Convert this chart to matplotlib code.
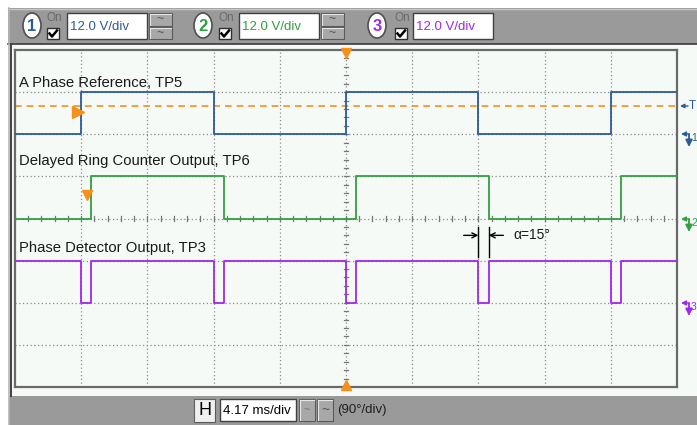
import matplotlib
matplotlib.use("Agg")
import matplotlib.pyplot as plt
from matplotlib.patches import Rectangle, Ellipse

plt.rcParams['font.family'] = ['Liberation Sans', 'DejaVu Sans']

# ---------------- data (time in degrees, level in divisions) ----------------
ref_t = [-90, 0, 180, 360, 540, 720, 810]
ref_v = [6, 7, 6, 7, 6, 7, 7]
ring_t = [-90, 14, 194, 374, 554, 734, 810]
ring_v = [4, 5, 4, 5, 4, 5, 5]
pd_t = [-90, 0, 14, 180, 194, 360, 374, 540, 554, 720, 734, 810]
pd_v = [3, 2, 3, 2, 3, 2, 3, 2, 3, 2, 3, 3]
trigger_level = 6.67
labels = ["A Phase Reference, TP5", "Delayed Ring Counter Output, TP6",
          "Phase Detector Output, TP3"]
channel_names = ["1", "2", "3"]
channel_scales = ["12.0 V/div", "12.0 V/div", "12.0 V/div"]
time_scale = "4.17 ms/div"
phase_scale = "(90°/div)"
alpha_text = "α=15°"
alpha_edges = [540, 554]

BLUE = '#2d5a98'
GREEN = '#2fa043'
PURPLE = '#a126ef'
ORANGE = '#f5901a'
PANEL = '#f5faf7'
GRAY = '#9a9a9a'

W, H = 697, 425
fig = plt.figure(figsize=(W / 100, H / 100), dpi=100, facecolor='white')

# ---------------- background / toolbars in pixel coords ----------------
bg = fig.add_axes([0, 0, 1, 1])
bg.set_xlim(0, W)
bg.set_ylim(H, 0)
bg.axis('off')
bg.add_patch(Rectangle((8, 8), W - 8, 36, color=GRAY, lw=0))
bg.plot([8, W], [43.5, 43.5], color='#3a3a3a', lw=1.2)
bg.plot([8, W], [9, 9], color='#c8c8c8', lw=1)
bg.add_patch(Rectangle((12, 44), W - 12, 352, color=PANEL, lw=0))
bg.plot([8.5, 8.5], [8, H], color='#b5b5b5', lw=1.2)
bg.plot([11, 11], [44, 396], color='#404040', lw=1.4)
bg.add_patch(Rectangle((9, 396), W - 9, 29, color=GRAY, lw=0))


def textbox(x0, y0, x1, y1, txt, color, fs=9.5):
    bg.add_patch(Rectangle((x0, y0), x1 - x0, y1 - y0, facecolor='white',
                           edgecolor='#404040', lw=1))
    bg.text(x0 + 3, (y0 + y1) / 2 + 0.5, txt, color=color, fontsize=fs,
            ha='left', va='center')


def button(x0, y0, x1, y1, txt, fs=9, color='#555555', face='#a8a8a8'):
    bg.add_patch(Rectangle((x0, y0), x1 - x0, y1 - y0, facecolor=face,
                           edgecolor='#5a5a5a', lw=0.8))
    bg.plot([x0 + 1, x1 - 1], [y0 + 1, y0 + 1], color='#e6e6e6', lw=0.8)
    bg.plot([x0 + 1, x0 + 1], [y0 + 1, y1 - 1], color='#e6e6e6', lw=0.8)
    bg.text((x0 + x1) / 2, (y0 + y1) / 2, txt, color=color, fontsize=fs,
            ha='center', va='center')


def checkbox(x0, y0):
    bg.add_patch(Rectangle((x0, y0), 12, 11, facecolor='white',
                           edgecolor='#303030', lw=1))
    bg.plot([x0 + 2.5, x0 + 5, x0 + 10], [y0 + 5.5, y0 + 8.5, y0 + 2.5],
            color='black', lw=1.8)


ch_colors = [BLUE, GREEN, PURPLE]
ovals = [32, 203, 377]
checks = [47, 219, 395]
boxes = [67, 239, 413]
for i in range(3):
    bg.add_patch(Ellipse((ovals[i], 25.5), 18, 25, facecolor='white',
                         edgecolor='#505050', lw=1.2))
    bg.text(ovals[i], 26, channel_names[i], color=ch_colors[i], fontsize=12,
            fontweight='bold', ha='center', va='center')
    bg.text(checks[i] + 7, 17.5, "On", color='#6a6a6a', fontsize=8.5,
            ha='center', va='center')
    checkbox(checks[i], 28)
    textbox(boxes[i], 13, boxes[i] + 80, 39, channel_scales[i], ch_colors[i])
    if i < 2:
        button(boxes[i] + 82, 13, boxes[i] + 105, 25.5, "~", fs=9)
        button(boxes[i] + 82, 26.5, boxes[i] + 105, 39, "~", fs=9)

# bottom toolbar
button(194, 399, 215, 422, "H", fs=13, color='black', face='#f0f0f0')
textbox(220, 399, 296, 421, time_scale, 'black', fs=9.5)
button(299, 399, 315, 421, "~", fs=8, color='#777777')
button(317, 399, 333, 421, "~", fs=10, color='#555555')
bg.text(337, 410.5, phase_scale, color='#202020', fontsize=9.5,
        ha='left', va='center')

# right side markers (pixel coords)
bg.annotate("", xy=(680, 106), xytext=(688, 106),
            arrowprops=dict(arrowstyle='-|>', color=BLUE, lw=1,
                            mutation_scale=6, shrinkA=0, shrinkB=0))
bg.text(689, 106, "T", color=BLUE, fontsize=8.5, ha='left', va='center')
for ypix, col, name in [(134, BLUE, "1"), (219, GREEN, "2"), (303, PURPLE, "3")]:
    bg.annotate("", xy=(681, ypix), xytext=(689, ypix),
                arrowprops=dict(arrowstyle='-|>', color=col, lw=1,
                                mutation_scale=7, shrinkA=0, shrinkB=0))
    bg.annotate("", xy=(689, ypix + 13), xytext=(689, ypix),
                arrowprops=dict(arrowstyle='-|>', color=col, lw=1.3,
                                mutation_scale=10, shrinkA=0, shrinkB=0))
    bg.text(691, ypix + 4, name, color=col, fontsize=7.5, ha='left',
            va='center')

# ---------------- scope grid ----------------
ax = fig.add_axes([15 / W, 38 / H, 662 / W, 337 / H])
ax.set_xlim(-90, 810)
ax.set_ylim(0, 8)
ax.set_facecolor(PANEL)
for s in ax.spines.values():
    s.set_color('#6a6a6a')
    s.set_linewidth(1.6)
ax.set_xticks([])
ax.set_yticks([])

grid_kw = dict(color='#8c8c8c', lw=0.9, ls=(0, (1, 2)), zorder=1)
for gx in range(0, 721, 90):
    ax.axvline(gx, **grid_kw)
for gy in range(1, 8):
    ax.axhline(gy, **grid_kw)
# minor ticks on centre axes
for k in range(-90, 811, 18):
    ax.plot([k, k], [3.93, 4.07], color='#777777', lw=0.9, zorder=1)
for k in range(0, 41):
    yy = k * 0.2
    ax.plot([357, 363], [yy, yy], color='#777777', lw=0.9, zorder=1)

# trigger level
ax.axhline(trigger_level, color=ORANGE, lw=1.2, ls=(0, (4, 3)), zorder=2)

# waveforms
ax.plot(ref_t, ref_v, drawstyle='steps-post', color=BLUE, lw=1.3, zorder=3)
ax.plot(ring_t, ring_v, drawstyle='steps-post', color=GREEN, lw=1.3, zorder=3)
ax.plot(pd_t, pd_v, drawstyle='steps-post', color=PURPLE, lw=1.3, zorder=3)

# labels
label_y = [7.22, 5.37, 3.29]
for txt, yy in zip(labels, label_y):
    ax.text(-84, yy, txt, color='#1a1a1a', fontsize=10.7, ha='left',
            va='center', zorder=4)

# orange markers
ax.plot([-5], [6.53], marker='>', color=ORANGE, ms=8, zorder=5, clip_on=False)
ax.plot([8], [4.55], marker='v', color=ORANGE, ms=7, zorder=5, clip_on=False)
ax.plot([360], [7.93], marker='v', color=ORANGE, ms=7, zorder=5, clip_on=False)
ax.plot([360], [0.05], marker='^', color=ORANGE, ms=7, zorder=5, clip_on=False)

# alpha annotation
for e in alpha_edges:
    ax.plot([e, e], [3.08, 3.8], color='black', lw=1, zorder=4)
ax.annotate("", xy=(alpha_edges[0], 3.6), xytext=(alpha_edges[0] - 20, 3.6),
            arrowprops=dict(arrowstyle='->', color='black', lw=1,
                            shrinkA=0, shrinkB=0, mutation_scale=9))
ax.annotate("", xy=(alpha_edges[1], 3.6), xytext=(alpha_edges[1] + 20, 3.6),
            arrowprops=dict(arrowstyle='->', color='black', lw=1,
                            shrinkA=0, shrinkB=0, mutation_scale=9))
ax.text(588, 3.62, alpha_text, color='#1a1a1a', fontsize=10, ha='left',
        va='center')

fig.savefig("out.png", dpi=100, facecolor=fig.get_facecolor())
